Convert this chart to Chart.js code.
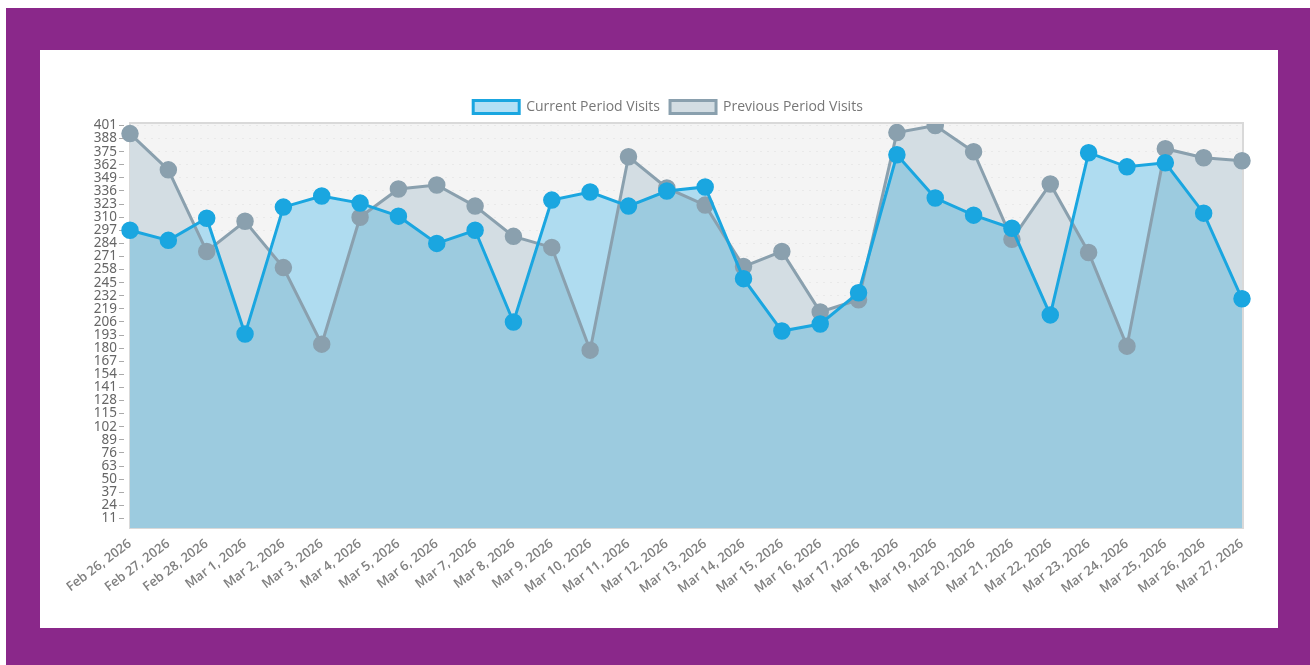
<!DOCTYPE html>
<html>
<head>
<meta charset="utf-8">
<script src="https://cdn.jsdelivr.net/npm/chart.js@4/dist/chart.umd.min.js"></script>
<style>
  html, body { margin: 0; padding: 0; background: #fff; }
  #frame { position: absolute; left: 6px; top: 8px; width: 1304px; height: 657px; background: #8a288a; }
  #panel { position: absolute; left: 40px; top: 50px; width: 1238px; height: 578px; background: #fff; }
  #chart { display: block; }
</style>
</head>
<body>
<div id="frame"></div>
<div id="panel"><canvas id="chart" width="1238" height="578"></canvas></div>
<script>
// dates on the x axis
const days = [
  'Feb 26, 2026', 'Feb 27, 2026', 'Feb 28, 2026', 'Mar 1, 2026', 'Mar 2, 2026',
  'Mar 3, 2026', 'Mar 4, 2026', 'Mar 5, 2026', 'Mar 6, 2026', 'Mar 7, 2026',
  'Mar 8, 2026', 'Mar 9, 2026', 'Mar 10, 2026', 'Mar 11, 2026', 'Mar 12, 2026',
  'Mar 13, 2026', 'Mar 14, 2026', 'Mar 15, 2026', 'Mar 16, 2026', 'Mar 17, 2026',
  'Mar 18, 2026', 'Mar 19, 2026', 'Mar 20, 2026', 'Mar 21, 2026', 'Mar 22, 2026',
  'Mar 23, 2026', 'Mar 24, 2026', 'Mar 25, 2026', 'Mar 26, 2026', 'Mar 27, 2026'
];

const currentVisits = [297, 287, 309, 194, 320, 331, 324, 311, 284, 297,
                       206, 327, 335, 321, 336, 340, 249, 197, 204, 235,
                       372, 329, 312, 299, 213, 374, 360, 364, 314, 229];

const previousVisits = [393, 357, 276, 306, 260, 184, 310, 338, 342, 321,
                        291, 280, 178, 370, 339, 322, 261, 276, 216, 228,
                        394, 401, 375, 288, 343, 275, 182, 378, 369, 366];

// y tick labels 11, 24, ... 401
const yTicks = [11, 24, 37, 50, 63, 76, 89, 102, 115, 128, 141, 154, 167, 180, 193,
                206, 219, 232, 245, 258, 271, 284, 297, 310, 323, 336, 349, 362, 375, 388, 401];

const plotBg = {
  id: 'plotBg',
  beforeDraw(chart) {
    const { ctx, chartArea: a } = chart;
    ctx.save();
    ctx.fillStyle = '#f4f4f4';
    ctx.fillRect(a.left, a.top, a.right - a.left, a.bottom - a.top);
    ctx.strokeStyle = '#d9d9d9';
    ctx.lineWidth = 2;
    ctx.strokeRect(a.left, a.top - 1, a.right - a.left + 1, a.bottom - a.top + 1);
    ctx.restore();
  }
};

new Chart(document.getElementById('chart'), {
  type: 'line',
  data: {
    labels: days,
    datasets: [
      {
        label: 'Current Period Visits',
        data: currentVisits,
        borderColor: '#1aa6e0',
        backgroundColor: '#b3e0f5',
        borderWidth: 3,
        pointRadius: 8,
        pointBorderWidth: 1.5,
        pointBackgroundColor: '#1aa6e0',
        pointBorderColor: '#1aa6e0',
        tension: 0,
        fill: { target: 1, above: '#afdcf0', below: '#d3dde3' }
      },
      {
        label: 'Previous Period Visits',
        data: previousVisits,
        borderColor: '#8aa0ae',
        backgroundColor: '#d3dde3',
        borderWidth: 3,
        pointRadius: 8,
        pointBorderWidth: 1.5,
        pointBackgroundColor: '#8aa0ae',
        pointBorderColor: '#8aa0ae',
        tension: 0,
        fill: { target: 'origin', above: '#9ccbdf' }
      }
    ]
  },
  options: {
    responsive: false,
    animation: false,
    layout: { padding: { top: 40, right: 36, left: 54, bottom: 0 } },
    plugins: {
      filler: { drawTime: 'beforeDatasetsDraw' },
      tooltip: { enabled: false },
      legend: {
        position: 'top',
        maxHeight: 35,
        labels: {
          boxWidth: 46,
          boxHeight: 13,
          padding: 10,
          color: '#777',
          font: { family: 'Open Sans', size: 14 }
        }
      }
    },
    scales: {
      x: {
        grid: { display: false },
        border: { display: false },
        afterFit(scale) { scale.height = 100; },
        ticks: {
          autoSkip: false,
          minRotation: 37,
          maxRotation: 37,
          padding: 0,
          color: '#808080',
          font: { family: 'Open Sans', size: 13, weight: '600' }
        }
      },
      y: {
        min: 1.5,
        max: 402.5,
        afterBuildTicks(scale) { scale.ticks = yTicks.map(v => ({ value: v })); },
        afterFit(scale) { scale.width = 36; },
        border: { display: false, dash: [2, 5] },
        grid: {
          color: 'rgba(0,0,0,0.045)',
          tickColor: '#aaa',
          tickLength: 11,
          tickBorderDash: [5, 10]
        },
        ticks: {
          autoSkip: false,
          padding: 2,
          color: '#666',
          font: { family: 'Noto Sans', size: 13.5 }
        }
      }
    }
  },
  plugins: [plotBg]
});
</script>
</body>
</html>
